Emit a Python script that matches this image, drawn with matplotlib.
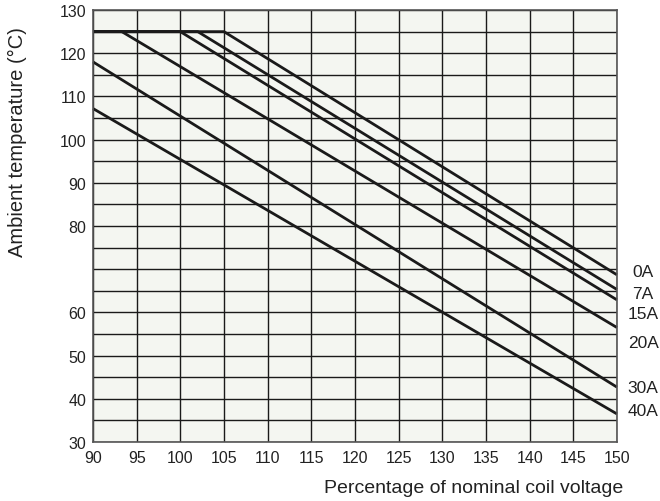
import matplotlib.pyplot as plt

plt.rcParams['font.family'] = ['Liberation Sans', 'DejaVu Sans']

# derating curves: flat at max temp until the knee, then straight down to 150 %
currents = ["0A", "7A", "15A", "20A", "30A", "40A"]
start_temp = [125, 125, 125, 125, 118, 107.2]
knee_volt = [105, 102, 100, 93.3, 90, 90]
end_temp = [68.7, 65.3, 62.9, 56.5, 42.7, 36.5]
label_temp = [69.4, 64.3, 59.7, 53.0, 42.6, 37.3]

x_ticks = list(range(90, 151, 5))
y_ticks = list(range(30, 131, 5))
y_labels = ["30", "", "40", "", "50", "", "60", "", "", "", "80", "", "90", "",
            "100", "", "110", "", "120", "", "130"]

fig = plt.figure(figsize=(6.6, 5.02), dpi=100)
ax = fig.add_axes([0.1409, 0.1175, 0.7939, 0.8605])
ax.set_facecolor("#f4f6f1")

ax.set_xlim(90, 150)
ax.set_ylim(30, 130)
ax.set_xticks(x_ticks)
ax.set_yticks(y_ticks)
ax.set_yticklabels(y_labels)
ax.tick_params(length=0, labelsize=11.5, colors="#222222")
ax.tick_params(axis="x", pad=6)
ax.tick_params(axis="y", pad=5)
ax.grid(True, color="#1a1a1a", linewidth=1.0)
ax.set_axisbelow(True)
for s in ax.spines.values():
    s.set_color("#555555")
    s.set_linewidth(1.2)

for name, y0, xk, y1, ly in zip(currents, start_temp, knee_volt, end_temp, label_temp):
    ax.plot([90, xk, 150], [y0, y0, y1], color="#1a1a1a", linewidth=2.0,
            solid_capstyle="butt", clip_on=False)
    ax.text(153, ly, name, ha="center", va="center", fontsize=12.5,
            color="#222222", clip_on=False)

fig.text(0.944, 0.018, "Percentage of nominal coil voltage", ha="right",
         va="baseline", fontsize=14, color="#222222")
fig.text(0.027, 0.717, "Ambient temperature (°C)", rotation=90, ha="center",
         va="center", fontsize=14.5, color="#222222")

fig.savefig("out.png", dpi=100)
